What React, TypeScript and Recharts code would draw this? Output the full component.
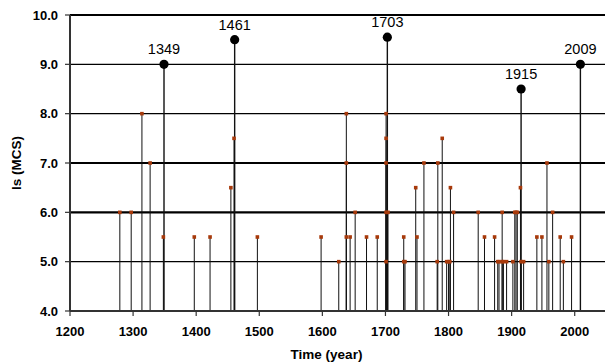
import React from 'react';
import { ComposedChart, Scatter, XAxis, YAxis, ReferenceLine } from 'recharts';

// Minor events: year and intensity (Is, MCS)
const minorYears = [
  1279, 1297, 1314, 1327, 1348, 1397, 1422, 1455, 1460, 1497,
  1598, 1626, 1638, 1638, 1638, 1644, 1652, 1670, 1687,
  1701, 1701, 1701, 1701, 1701, 1704, 1729, 1729, 1731, 1748, 1750,
  1761, 1782, 1783, 1790, 1797, 1800, 1802, 1803, 1808,
  1847, 1857, 1873, 1878, 1880, 1885, 1885, 1887, 1892,
  1902, 1905, 1907, 1909, 1914, 1915, 1919,
  1940, 1948, 1956, 1959, 1965, 1977, 1982, 1995,
];
const minorValues = [
  6.0, 6.0, 8.0, 7.0, 5.5, 5.5, 5.5, 6.5, 7.5, 5.5,
  5.5, 5.0, 8.0, 7.0, 5.5, 5.5, 6.0, 5.5, 5.5,
  8.0, 7.5, 7.0, 6.0, 5.0, 6.0, 5.5, 5.0, 5.0, 6.5, 5.5,
  7.0, 5.0, 7.0, 7.5, 5.0, 5.0, 5.0, 6.5, 6.0,
  6.0, 5.5, 5.5, 5.0, 5.0, 6.0, 5.0, 5.0, 5.0,
  5.0, 6.0, 6.0, 6.0, 6.5, 5.0, 5.0,
  5.5, 5.5, 7.0, 5.0, 6.0, 5.5, 5.0, 5.5,
];

// Major events (labelled)
const majorYears = [1349, 1461, 1703, 1915, 2009];
const majorValues = [9.0, 9.5, 9.55, 8.5, 9.0];
const majorLabels = ['1349', '1461', '1703', '1915', '2009'];

const xTicks = [1200, 1300, 1400, 1500, 1600, 1700, 1800, 1900, 2000];
const yTicks = [4, 5, 6, 7, 8, 9, 10];
const thickGrid = [6, 7, 10];

const minorData = minorYears.map((year, i) => ({ year, value: minorValues[i] }));
const majorData = majorYears.map((year, i) => ({ year, value: majorValues[i], label: majorLabels[i] }));

const FONT = '"Liberation Sans", Arial, sans-serif';

const SquareMarker = (props: any) => {
  const { cx, cy } = props;
  if (cx == null || cy == null) return null;
  return <rect x={cx - 1.8} y={cy - 1.8} width={3.6} height={3.6} fill="#A83A0B" />;
};

const MajorMarker = (props: any) => {
  const { cx, cy, payload } = props;
  if (cx == null || cy == null) return null;
  return (
    <g>
      <circle cx={cx} cy={cy} r={4.6} fill="#000" />
      <text x={cx} y={cy - 10} textAnchor="middle" fontSize={14.5} fontFamily={FONT} fill="#000">
        {payload.label}
      </text>
    </g>
  );
};

export default function App() {
  return (
    <div style={{ position: 'absolute', left: 0, top: 0, fontFamily: FONT }}>
      <ComposedChart width={605} height={363} margin={{ top: 15, right: 0, left: 0, bottom: 0 }}>
        <XAxis
          type="number"
          dataKey="year"
          domain={[1200, 2048]}
          allowDataOverflow
          ticks={xTicks}
          interval={0}
          height={52}
          tickSize={5}
          tickMargin={11}
          axisLine={{ stroke: '#333', strokeWidth: 1.8 }}
          tickLine={{ stroke: '#333', strokeWidth: 1.2 }}
          tick={{ fill: '#000', fontSize: 13, fontWeight: 'bold', fontFamily: FONT }}
          label={{ value: 'Time (year)', position: 'insideBottom', offset: 4, dx: -11, fill: '#000', fontSize: 13.5, fontWeight: 'bold', fontFamily: FONT }}
        />
        <YAxis
          type="number"
          dataKey="value"
          domain={[yTicks[0], yTicks[yTicks.length - 1]]}
          ticks={yTicks}
          interval={0}
          width={70}
          tickSize={5}
          tickMargin={7}
          tickFormatter={(v: number) => v.toFixed(1)}
          axisLine={{ stroke: '#333', strokeWidth: 2 }}
          tickLine={{ stroke: '#333', strokeWidth: 1.2 }}
          tick={{ fill: '#000', fontSize: 13, fontWeight: 'bold', fontFamily: FONT }}
          label={{ value: 'Is (MCS)', angle: -90, position: 'center', dx: -19, fill: '#000', fontSize: 13.5, fontWeight: 'bold', fontFamily: FONT }}
        />
        {yTicks.slice(1).map((v) => (
          <ReferenceLine
            key={'g' + v}
            y={v}
            stroke="#000"
            strokeWidth={thickGrid.includes(v) ? 2.2 : 1.3}
            ifOverflow="extendDomain"
          />
        ))}
        {minorData.map((d, i) => (
          <ReferenceLine
            key={'s' + i}
            segment={[{ x: d.year, y: yTicks[0] }, { x: d.year, y: d.value }]}
            stroke="#111"
            strokeWidth={1}
          />
        ))}
        {majorData.map((d, i) => (
          <ReferenceLine
            key={'m' + i}
            segment={[{ x: d.year, y: yTicks[0] }, { x: d.year, y: d.value }]}
            stroke="#111"
            strokeWidth={1.4}
          />
        ))}
        <Scatter data={minorData} dataKey="value" shape={<SquareMarker />} isAnimationActive={false} />
        <Scatter data={majorData} dataKey="value" shape={<MajorMarker />} isAnimationActive={false} />
      </ComposedChart>
    </div>
  );
}
